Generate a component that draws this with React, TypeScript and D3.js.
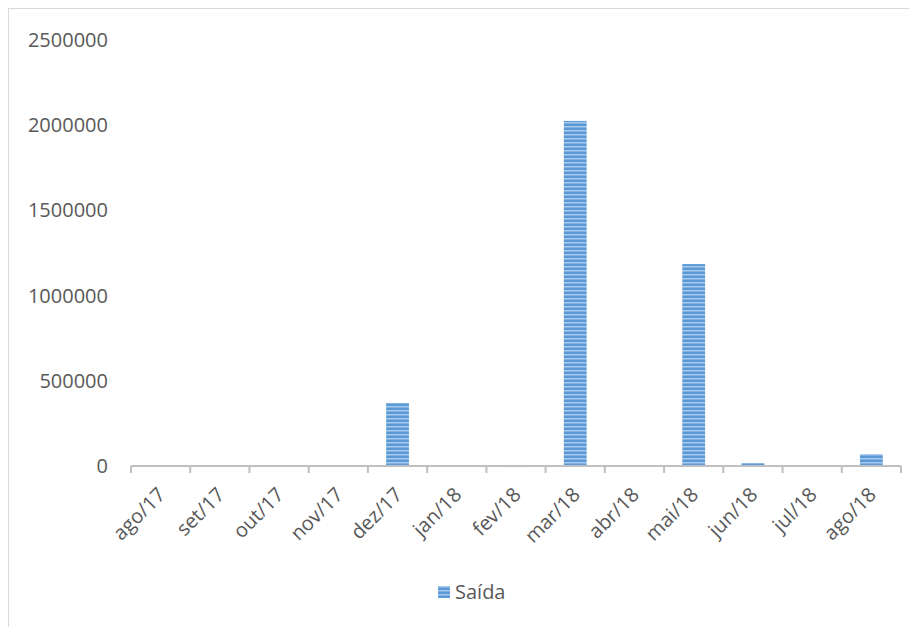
import React from "react";
import * as d3 from "d3";

const categories = ["ago/17", "set/17", "out/17", "nov/17", "dez/17", "jan/18", "fev/18", "mar/18", "abr/18", "mai/18", "jun/18", "jul/18", "ago/18"];
const saida = [800, 800, 800, 800, 370000, 4000, 6000, 2025000, 1500, 1185000, 17000, 1500, 70000];
const yTicks = [0, 500000, 1000000, 1500000, 2000000, 2500000];
const seriesName = "Saída";

const W = 909;
const H = 619;
const x0 = 123;
const x1 = 893;
const yBase = 458;
const yTop = 32;

export default function App() {
  const x = d3.scaleBand<string>().domain(categories).range([x0, x1]).paddingInner(0.615).paddingOuter(0.3075);
  const y = d3.scaleLinear().domain([0, 2500000]).range([yBase, yTop]);
  const step = x.step();
  const font = "'Open Sans', sans-serif";
  const txt = "#595959";
  return (
    <svg width={W} height={H} style={{ display: "block" }}>
      <defs>
        <pattern id="stripes" patternUnits="userSpaceOnUse" width="4" height="4">
          <rect x="0" y="0" width="4" height="4" fill="#5a9ad6" />
          <rect x="0" y="2" width="4" height="1.5" fill="#a6c9ec" />
        </pattern>
      </defs>
      <rect x={0.5} y={0.5} width={W + 20} height={H + 20} fill="#fff" stroke="#d9d9d9" strokeWidth={1} />
      {yTicks.map((t) => (
        <text key={t} x={100} y={y(t)} dy="0.35em" textAnchor="end" fontFamily={font} fontSize={20} fill={txt}>
          {t}
        </text>
      ))}
      {categories.map((c, i) => {
        const v = saida[i];
        const bx = x(c)!;
        return <rect key={c} x={bx} y={y(v)} width={x.bandwidth()} height={yBase - y(v)} fill="url(#stripes)" />;
      })}
      <line x1={x0} x2={x1} y1={yBase} y2={yBase} stroke="#c0c0c0" strokeWidth={2} />
      {d3.range(categories.length + 1).map((i) => (
        <line key={i} x1={x0 + i * step} x2={x0 + i * step} y1={yBase} y2={yBase + 7} stroke="#c0c0c0" strokeWidth={2} />
      ))}
      {categories.map((c) => {
        const cx = x(c)! + x.bandwidth() / 2;
        return (
          <text key={c} transform={`translate(${cx + 6},${yBase + 30}) rotate(-45)`} textAnchor="end" fontFamily={font} fontSize={20} fill={txt}>
            {c}
          </text>
        );
      })}
      <rect x={430} y={578} width={12} height={12} fill="url(#stripes)" />
      <text x={447} y={584} dy="0.35em" fontFamily={font} fontSize={20} fill={txt}>
        {seriesName}
      </text>
    </svg>
  );
}
